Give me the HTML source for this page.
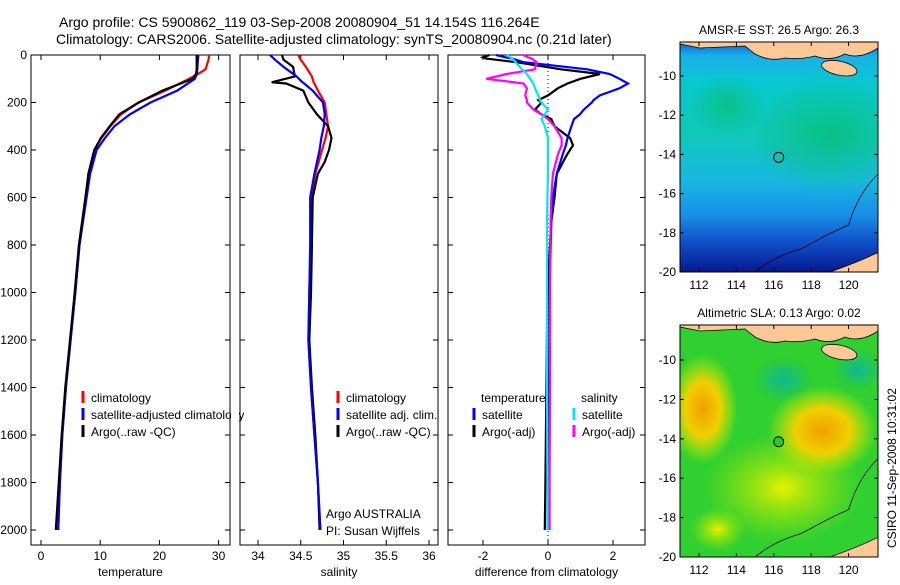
<!DOCTYPE html>
<html><head><meta charset="utf-8"><style>
body{margin:0;background:#fff;}
svg text{font-family:"Liberation Sans",sans-serif;font-size:12px;fill:#000;}
svg text.ttl{font-size:14px;}
</style></head><body>
<svg id="fig" width="900" height="580" viewBox="0 0 900 580" xmlns="http://www.w3.org/2000/svg">
<defs>
<linearGradient id="sstg" x1="0" y1="0" x2="0" y2="1">
<stop offset="0" stop-color="#0a5fd8"/><stop offset="0.06" stop-color="#1ab0e8"/><stop offset="0.18" stop-color="#08c8d0"/><stop offset="0.4" stop-color="#10c8b8"/><stop offset="0.6" stop-color="#18b8e0"/><stop offset="0.75" stop-color="#1890e8"/><stop offset="0.87" stop-color="#1050c8"/><stop offset="1" stop-color="#081890"/>
</linearGradient>
<radialGradient id="sstgreen" cx="0.5" cy="0.5" r="0.5"><stop offset="0" stop-color="#08c080" stop-opacity="0.9"/><stop offset="1" stop-color="#08c080" stop-opacity="0"/></radialGradient>
<radialGradient id="orange" cx="0.5" cy="0.5" r="0.5"><stop offset="0" stop-color="#f0a000"/><stop offset="0.5" stop-color="#f0d000"/><stop offset="1" stop-color="#c0f000" stop-opacity="0"/></radialGradient>
<radialGradient id="yellow" cx="0.5" cy="0.5" r="0.5"><stop offset="0" stop-color="#e8f000"/><stop offset="1" stop-color="#a0e800" stop-opacity="0"/></radialGradient>
<radialGradient id="teal" cx="0.5" cy="0.5" r="0.5"><stop offset="0" stop-color="#10b890"/><stop offset="1" stop-color="#10b890" stop-opacity="0"/></radialGradient>
<clipPath id="clip1"><rect x="680" y="42" width="198" height="230"/></clipPath>
<clipPath id="clip2"><rect x="680" y="325" width="198" height="232"/></clipPath>
</defs>
<text class="ttl" x="59" y="27">Argo profile: CS 5900862_119 03-Sep-2008 20080904_51 14.154S 116.264E</text>
<text class="ttl" x="56" y="44">Climatology: CARS2006. Satellite-adjusted climatology: synTS_20080904.nc (0.21d later)</text>
<g id="plots"></g>
<text transform="translate(896,548) rotate(-90)">CSIRO 11-Sep-2008 10:31:02</text>
</svg>
<script>
// depth levels
const dT = [0,20,60,80,100,150,200,250,300,350,400,500,600,800,1000,1200,1400,1600,1800,2000];
const tClim = [28.4,28.3,27.8,26.5,25,21,16.5,13.5,11.7,10.2,9,8,7.6,6.5,5.8,5,4.2,3.6,3.2,2.9];
const tSat  = [26.6,26.5,26.4,26.3,26,23,18.5,15,12.4,10.8,9.4,8.3,7.7,6.5,5.8,5,4.2,3.6,3.2,2.9];
const tArgo = [26.3,26.3,26.3,26.2,25.6,20.5,16.5,13.2,11.6,10.1,9,8,7.5,6.4,5.7,4.9,4.1,3.5,3.0,2.5];
const dS = [0,20,50,90,115,120,150,200,250,300,350,400,450,500,600,800,1000,1200,1400,1600,1800,2000];
const sClim = [34.47,34.5,34.56,34.63,34.65,34.66,34.7,34.78,34.8,34.82,34.79,34.75,34.71,34.67,34.63,34.62,34.6,34.59,34.62,34.66,34.7,34.73];
const sSat  = [34.14,34.2,34.3,34.45,34.52,34.54,34.64,34.76,34.78,34.77,34.74,34.72,34.69,34.66,34.61,34.61,34.6,34.59,34.62,34.66,34.7,34.73];
const sArgo = [34.28,34.3,34.41,34.43,34.16,34.33,34.53,34.59,34.69,34.82,34.86,34.83,34.78,34.7,34.64,34.63,34.62,34.6,34.63,34.67,34.7,34.72];
const dD = [0,10,15,30,60,80,100,120,140,170,190,200,230,250,270,300,350,380,420,500,600,700,1000,1400,1800,2000];
const dTSat  = [-1.6,-1.3,-1.1,-0.77,1.2,1.9,2.2,2.46,2.2,1.6,1.4,1.35,1.1,0.98,0.8,0.72,0.6,0.55,0.45,0.27,0.15,0.1,0.05,0.03,0.02,0.02];
const dTArgo = [-1.8,-2.0,-1.9,-1.0,0.4,1.6,1.0,0.6,0.3,0.0,-0.3,-0.2,-0.4,-0.2,0.1,0.2,0.68,0.77,0.58,0.27,0.2,0.1,-0.02,-0.05,-0.08,-0.1];
const dSArgo = [-0.77,-0.6,-0.5,-0.35,-0.4,-1.27,-1.9,-0.75,-0.65,-0.7,-0.65,-0.65,-0.45,-0.2,0.0,0.2,0.42,0.42,0.3,0.15,0.1,0.08,0.06,0.06,0.05,0.05];
const dSSat  = [-1.27,-1.15,-1.1,-1.0,-0.8,-0.65,-0.55,-0.45,-0.4,-0.3,-0.25,-0.2,0.0,-0.1,-0.2,-0.1,0.0,0.0,0.0,0.0,-0.02,-0.03,-0.03,-0.03,-0.02,-0.02];
const depthTicks = [0,200,400,600,800,1000,1200,1400,1600,1800,2000];
const tTicks = [0,10,20,30];
const sTicks = [34,34.5,35,35.5,36];
const sTickLabels = ["34","34.5","35","35.5","36"];
const dTicks = [-2,0,2];
const lonTicks = [112,114,116,118,120];
const latTicks = [-10,-12,-14,-16,-18,-20];

const NS='http://www.w3.org/2000/svg';
const G=document.getElementById('plots');
function mk(tag,attrs,parent){const e=document.createElementNS(NS,tag);for(const k in attrs)e.setAttribute(k,attrs[k]);(parent||G).appendChild(e);return e;}
const yD = d => 55 + d*0.2375;
const panels = [
 {x0:31,x1:230,fx:v=>41+v*5.92,ticks:tTicks,labels:tTicks.map(String),xl:'temperature',name:'temperature'},
 {x0:240,x1:438,fx:v=>258+(v-34)*85.5,ticks:sTicks,labels:sTickLabels,xl:'salinity',name:'salinity'},
 {x0:448,x1:645,fx:v=>548+v*32.5,ticks:dTicks,labels:dTicks.map(String),xl:'difference from climatology',name:'difference'}
];
panels.forEach((p,i)=>{
  const r=mk('rect',{x:p.x0,y:55,width:p.x1-p.x0,height:490,fill:'none',stroke:'#000','stroke-width':1});
  
  
  p.ticks.forEach((t,j)=>{
    const x=p.fx(t);
    mk('line',{x1:x,x2:x,y1:545,y2:540,stroke:'#000'});
    mk('line',{x1:x,x2:x,y1:55,y2:60,stroke:'#000'});
    const tx=mk('text',{x:x,y:560,'text-anchor':'middle'});tx.textContent=p.labels[j];
    
    
  });
  depthTicks.forEach(d=>{
    mk('line',{x1:p.x0,x2:p.x0+5,y1:yD(d),y2:yD(d),stroke:'#000'});
    mk('line',{x1:p.x1,x2:p.x1-5,y1:yD(d),y2:yD(d),stroke:'#000'});
    if(i===0){const t=mk('text',{x:27,y:yD(d)+4,'text-anchor':'end'});t.textContent=d;
      
      }
  });
  const xl=mk('text',{x:(p.x0+p.x1)/2,y:576,'text-anchor':'middle'});xl.textContent=p.xl;
  
  
});
function line(depths,vals,fx,color,name){
  const pts=depths.map((d,k)=>fx(vals[k]).toFixed(1)+','+yD(d).toFixed(1)).join(' ');
  const l=mk('polyline',{points:pts,fill:'none',stroke:color,'stroke-width':2.2,'stroke-linejoin':'miter'});
  
  
}
mk('line',{x1:548,x2:548,y1:55,y2:545,stroke:'#000','stroke-dasharray':'1,3'});
line(dT,tClim,panels[0].fx,'#ff0000','temp-climatology-line');
line(dT,tSat,panels[0].fx,'#0000ff','temp-satellite-line');
line(dT,tArgo,panels[0].fx,'#000000','temp-argo-line');
line(dS,sClim,panels[1].fx,'#ff0000','sal-climatology-line');
line(dS,sArgo,panels[1].fx,'#000000','sal-argo-line');
line(dS,sSat,panels[1].fx,'#0000ff','sal-satellite-line');
line(dD,dTArgo,panels[2].fx,'#000000','diff-temp-argo-line');
line(dD,dTSat,panels[2].fx,'#0000ff','diff-temp-satellite-line');
line(dD,dSArgo,panels[2].fx,'#ff00ff','diff-sal-argo-line');
line(dD,dSSat,panels[2].fx,'#00e8f0','diff-sal-satellite-line');
function leg(x,y,color,label,name){
  mk('line',{x1:x,x2:x,y1:y-11,y2:y+1,stroke:color,'stroke-width':3});
  const t=mk('text',{x:x+8,y:y});t.textContent=label;
  
  
}
leg(83,402,'#ff0000','climatology','temp-legend-climatology');
leg(83,419,'#0000ff','satellite-adjusted climatology','temp-legend-satellite');
leg(83,436,'#000000','Argo(..raw -QC)','temp-legend-argo');
mk('rect',{x:231,y:405,width:8,height:20,fill:'#fff'});
leg(338,402,'#ff0000','climatology','sal-legend-climatology');
leg(338,419,'#0000ff','satellite adj. clim.','sal-legend-satellite');
leg(338,436,'#000000','Argo(..raw -QC)','sal-legend-argo');
const lt=mk('text',{x:481,y:402});lt.textContent='temperature';

const ls=mk('text',{x:581,y:402});ls.textContent='salinity';

leg(474,419,'#0000ff','satellite','diff-legend-temp-satellite');
leg(474,436,'#000000','Argo(-adj)','diff-legend-temp-argo');
leg(574,419,'#00e8f0','satellite','diff-legend-sal-satellite');
leg(574,436,'#ff00ff','Argo(-adj)','diff-legend-sal-argo');
const a1=mk('text',{x:326,y:518});a1.textContent='Argo AUSTRALIA';

const a2=mk('text',{x:326,y:535});a2.textContent='PI: Susan Wijffels';


const fLon = v => 699 + (v-112)*18.7;
function mapPanel(top,bottom,lat10,title,kind){
  const fLat = v => lat10 + (-10 - v)*((bottom-lat10)/10);
  const g=mk('g',{'clip-path':'url(#'+(kind==='sst'?'clip1':'clip2')+')'});
  
  
  if(kind==='sst'){
    mk('rect',{x:680,y:top,width:198,height:bottom-top,fill:'url(#sstg)'},g);
    mk('ellipse',{cx:fLon(119),cy:fLat(-13),rx:80,ry:60,fill:'url(#sstgreen)'},g);
    mk('ellipse',{cx:fLon(113.5),cy:fLat(-11.5),rx:40,ry:30,fill:'url(#sstgreen)'},g);
  } else {
    mk('rect',{x:680,y:top,width:198,height:bottom-top,fill:'#30d030'},g);
    mk('ellipse',{cx:fLon(116.5),cy:fLat(-16.5),rx:80,ry:55,fill:'url(#yellow)'},g);
    mk('ellipse',{cx:fLon(118.6),cy:fLat(-13.6),rx:55,ry:45,fill:'url(#orange)'},g);
    mk('ellipse',{cx:fLon(112.2),cy:fLat(-12.5),rx:35,ry:55,fill:'url(#orange)'},g);
    mk('ellipse',{cx:fLon(113),cy:fLat(-18.6),rx:28,ry:22,fill:'url(#yellow)'},g);
    mk('ellipse',{cx:fLon(116.5),cy:fLat(-11),rx:30,ry:22,fill:'url(#teal)'},g);
    mk('ellipse',{cx:fLon(120.5),cy:fLat(-10.5),rx:25,ry:20,fill:'url(#teal)'},g);
  }
  mk('path',{d:`M680 ${top} L878 ${top} L878 ${top+6} Q860 ${top+18} 845 ${top+12} Q830 ${top+20} 815 ${top+14} Q800 ${top+18} 785 ${top+16} Q770 ${top+20} 755 ${top+12} L745 ${top+4} L700 ${top+6} L680 ${top+2} Z`,fill:'#ffc896',stroke:'#000','stroke-width':0.8},g);
  mk('ellipse',{cx:fLon(119.5),cy:fLat(-9.6),rx:18,ry:7,fill:'#ffc896',stroke:'#000','stroke-width':0.8,transform:`rotate(12 ${fLon(119.5)} ${fLat(-9.6)})`},g);
  mk('path',{d:`M${fLon(119)} ${bottom} Q${fLon(120.5)} ${fLat(-19.5)} 878 ${fLat(-19)} L878 ${bottom} Z`,fill:'#ffc896',stroke:'#000','stroke-width':0.8},g);
  mk('path',{d:`M${fLon(115)} ${bottom} Q${fLon(116)} ${fLat(-19.2)} ${fLon(117.5)} ${fLat(-18.8)} Q${fLon(119)} ${fLat(-18)} ${fLon(120)} ${fLat(-17.6)} Q${fLon(120.5)} ${fLat(-16)} 878 ${fLat(-15)}`,fill:'none',stroke:'#000','stroke-width':0.8},g);
  const c=mk('circle',{cx:fLon(116.26),cy:fLat(-14.15),r:5,fill:kind==='sst'?'none':'#20d020',stroke:'#000'});
  
  
  mk('rect',{x:680,y:top,width:198,height:bottom-top,fill:'none',stroke:'#000'});
  lonTicks.forEach(v=>{const x=fLon(v);
    mk('line',{x1:x,x2:x,y1:bottom,y2:bottom-4,stroke:'#000'});
    mk('line',{x1:x,x2:x,y1:top,y2:top+4,stroke:'#000'});
    const t=mk('text',{x:x,y:bottom+17,'text-anchor':'middle'});t.textContent=v;
    
    });
  latTicks.forEach(v=>{const y=fLat(v);
    mk('line',{x1:680,x2:684,y1:y,y2:y,stroke:'#000'});
    mk('line',{x1:878,x2:874,y1:y,y2:y,stroke:'#000'});
    const t=mk('text',{x:676,y:y+4,'text-anchor':'end'});t.textContent=v;
    
    });
  const tt=mk('text',{x:779,y:top-8,'text-anchor':'middle'});tt.textContent=title;
  
  
}
mapPanel(42,272,76,'AMSR-E SST: 26.5 Argo: 26.3','sst');
mapPanel(325,557,360,'Altimetric SLA: 0.13 Argo: 0.02','sla');
</script>
</body></html>
